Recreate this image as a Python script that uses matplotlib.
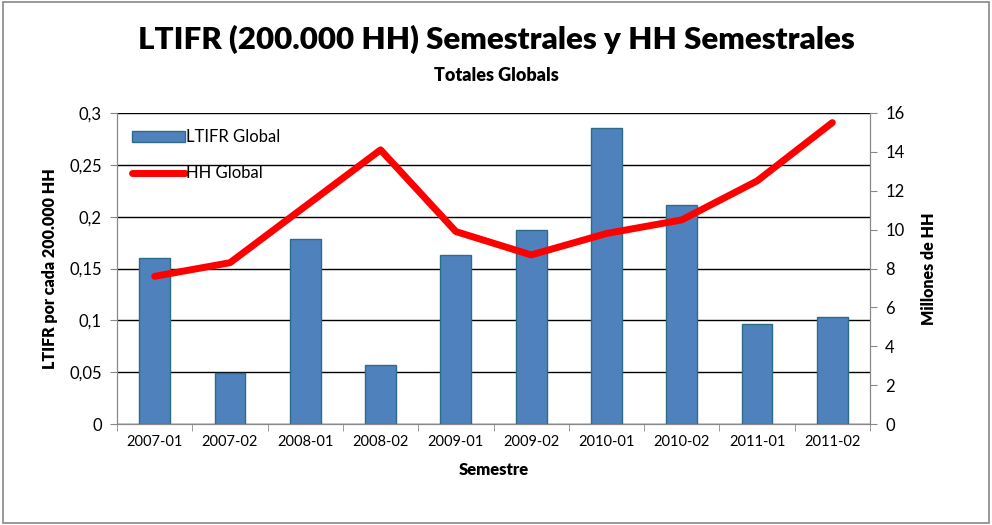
import matplotlib.pyplot as plt
from matplotlib.patches import Rectangle

semestres = ["2007-01", "2007-02", "2008-01", "2008-02", "2009-01",
             "2009-02", "2010-01", "2010-02", "2011-01", "2011-02"]
ltifr = [0.160, 0.049, 0.178, 0.057, 0.163, 0.187, 0.285, 0.211, 0.097, 0.103]
hh_millones = [7.6, 8.3, 11.2, 14.1, 9.9, 8.7, 9.8, 10.5, 12.5, 15.5]

plt.rcParams['font.family'] = ['Lato', 'DejaVu Sans']

fig = plt.figure(figsize=(9.92, 5.25), dpi=100)
fig.patches.append(Rectangle((0.003, 0.004), 0.994, 0.992, transform=fig.transFigure,
                             fill=False, edgecolor='#888888', linewidth=1.2))

ax = fig.add_axes([0.118, 0.192, 0.759, 0.593])
x = range(len(semestres))
ax.bar(x, ltifr, width=0.41, color='#4F81BD', edgecolor='#2C6C85', linewidth=1,
       label='LTIFR Global', zorder=2)
ax.set_ylim(0, 0.3)
ax.set_xlim(-0.5, len(semestres) - 0.5)
ax.set_yticks([0, 0.05, 0.1, 0.15, 0.2, 0.25, 0.3])
ax.set_yticklabels(['0', '0,05', '0,1', '0,15', '0,2', '0,25', '0,3'], fontsize=12)
ax.set_xticks(list(x))
ax.set_xticklabels(semestres, fontsize=10.5)
ax.set_xticks([i - 0.5 for i in range(len(semestres) + 1)], minor=True)
ax.tick_params(axis='x', which='major', length=0, pad=8)
ax.tick_params(axis='x', which='minor', length=5, color='#888888')
ax.tick_params(axis='y', length=5, color='#888888', pad=6)
ax.grid(axis='y', color='black', linewidth=1, zorder=0)
for s in ['left', 'right', 'bottom']:
    ax.spines[s].set_color('#888888')
ax.spines['top'].set_visible(False)
ax.set_xlabel('Semestre', fontsize=12, fontweight='heavy', labelpad=9)
ax.set_ylabel('LTIFR por cada 200.000 HH', fontsize=11.5, fontweight='heavy', labelpad=8)

ax2 = ax.twinx()
ax2.plot(list(x), hh_millones, color='#FF0000', linewidth=5, label='HH Global',
         solid_capstyle='round', zorder=3)
ax2.set_ylim(0, 16)
ax2.set_yticks(range(0, 17, 2))
ax2.tick_params(axis='y', labelsize=12, length=5, color='#888888', pad=6)
for s in ['left', 'right', 'bottom']:
    ax2.spines[s].set_color('#888888')
ax2.spines['top'].set_visible(False)
ax2.set_ylabel('Millones de HH', fontsize=11.5, fontweight='heavy', labelpad=12)

h1, l1 = ax.get_legend_handles_labels()
h2, l2 = ax2.get_legend_handles_labels()
ax2.legend(h1 + h2, l1 + l2, loc='upper left', bbox_to_anchor=(0.0, 0.995),
           frameon=False, fontsize=12, handlelength=3.2, handletextpad=0.05,
           labelspacing=1.2)

fig.text(0.5, 0.925, 'LTIFR (200.000 HH) Semestrales y HH Semestrales',
         ha='center', va='center', fontsize=22.5, fontweight='heavy')
fig.text(0.5, 0.857, 'Totales Globals', ha='center', va='center',
         fontsize=13, fontweight='heavy')

fig.savefig('out.png', dpi=100)
